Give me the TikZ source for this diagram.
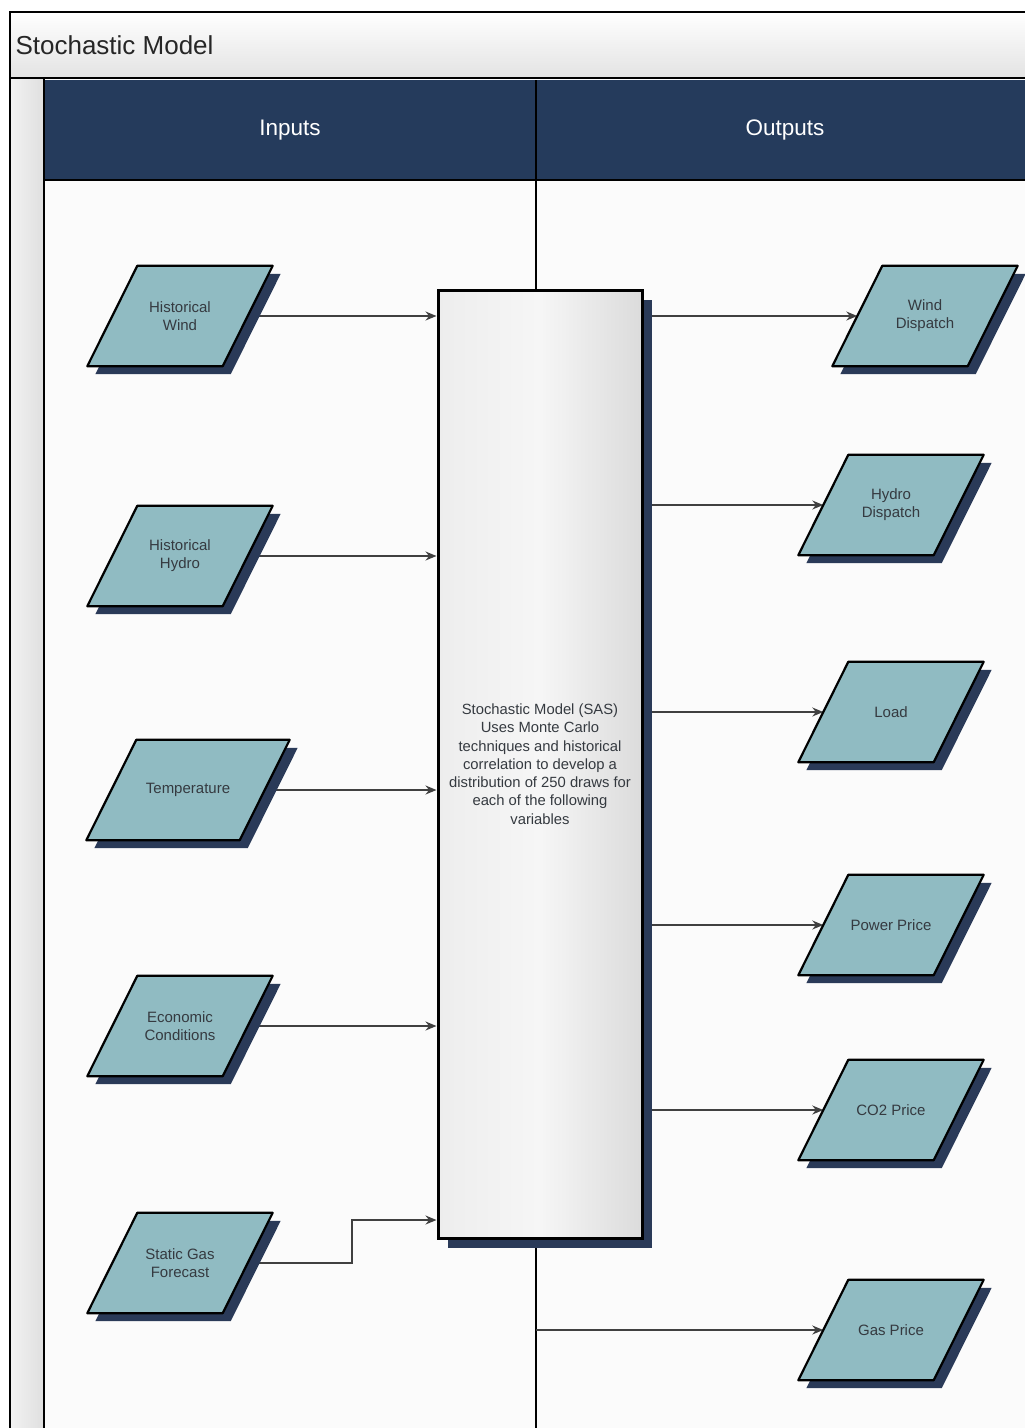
\documentclass[tikz,border=0pt]{standalone}
\usepackage{fontspec}
\setmainfont{Liberation Sans}
\usetikzlibrary{arrows.meta,calc,shadows}
\definecolor{navy}{HTML}{253B5C}
\definecolor{shnavy}{HTML}{2A3A58}
\definecolor{paraf}{HTML}{90BBC2}
\definecolor{txt}{HTML}{353A40}
\pgfdeclarelayer{frame}
\pgfdeclarelayer{conn}
\pgfdeclarelayer{paras}
\pgfsetlayers{frame,conn,paras,main}
\newcommand\parashape[1]{%
  \begin{pgfonlayer}{paras}
  \fill[shnavy] ($(#1.north west)+(33,8)$) -- ($(#1.north east)+(33,8)$)
     -- ($(#1.south east)+(-17,8)$) -- ($(#1.south west)+(-17,8)$) -- cycle;
  \filldraw[fill=paraf, draw=black, line width=2.2pt, line join=round]
     ($(#1.north west)+(25,0)$) -- ($(#1.north east)+(25,0)$)
     -- ($(#1.south east)+(-25,0)$) -- ($(#1.south west)+(-25,0)$) -- cycle;
  \end{pgfonlayer}}
\begin{document}
\begin{tikzpicture}[x=1pt,y=-1pt,
  para/.style={rectangle, minimum width=135pt, minimum height=100pt, inner sep=0pt,
    align=center, text=txt, font=\fontsize{15}{18}\selectfont},
  arr/.style={draw=black!75, line width=1.4pt, -{Stealth[length=11pt,width=9pt]}},
  frameline/.style={draw=black, line width=2.8pt},
  lanehead/.style={text=white, font=\fontsize{22.5}{26}\selectfont}]
\useasboundingbox (0,0) rectangle (1025,1428);

\begin{pgfonlayer}{frame}
  \fill[white!97!gray] (10,12) rectangle (1040,1440);
  \shade[top color=white, bottom color=gray!22] (10,12) rectangle (1040,78);
  \shade[left color=gray!10, right color=gray!25] (10,78) rectangle (44,1440);
  \fill[navy] (44,80) rectangle (1040,180);
  \draw[frameline] (10,1440) -- (10,12) -- (1040,12);
  \draw[frameline] (10,78) -- (1040,78);
  \draw[frameline] (44,78) -- (44,1440);
  \draw[frameline] (44,180) -- (1040,180);
  \coordinate (lanetop) at (536,80);
  \coordinate (lane) at (536,180);
  \coordinate (lanebot) at (536,1440);
  \draw[frameline] (lanetop) -- (lanebot);
\end{pgfonlayer}

\node[anchor=west, font=\fontsize{26}{30}\selectfont, text=black!85] (title) at (12,45) {Stochastic Model};
\node[lanehead] (inputs) at (290,130) {Inputs};
\node[lanehead] (outputs) at (785,130) {Outputs};

\node[draw=black, line width=3pt, minimum width=204pt, minimum height=948pt,
  left color=gray!14, right color=gray!28, middle color=white!93!gray,
  drop shadow={shadow xshift=10pt, shadow yshift=-10pt, fill=shnavy, opacity=1},
  align=center, font=\fontsize{14.8}{18.3}\selectfont, text=txt] (model) at (540,764)
  {Stochastic Model (SAS)\\Uses Monte Carlo\\techniques and historical\\correlation to develop a\\distribution of 250 draws for\\each of the following\\variables};

\node[para] (hw) at (180,316) {Historical\\Wind};
\node[para] (hh) at (180,556) {Historical\\Hydro};
\node[para, minimum width=153pt] (temp) at (188,790) {Temperature};
\node[para] (ec) at (180,1026) {Economic\\Conditions};
\node[para] (sgf) at (180,1263) {Static Gas\\Forecast};

\node[para] (wd) at (925,316) {Wind\\Dispatch};
\node[para] (hyd) at (891,505) {Hydro\\Dispatch};
\node[para] (load) at (891,712) {Load};
\node[para] (pp) at (891,925) {Power Price};
\node[para] (co2) at (891,1110) {CO2 Price};
\node[para] (gp) at (891,1330) {Gas Price};

\parashape{hw}\parashape{hh}\parashape{temp}\parashape{ec}\parashape{sgf}
\parashape{wd}\parashape{hyd}\parashape{load}\parashape{pp}\parashape{co2}\parashape{gp}

\begin{pgfonlayer}{conn}
  \draw[arr] (hw.east) -- (hw.east -| model.west);
  \draw[arr] (hh.east) -- (hh.east -| model.west);
  \draw[arr] (temp.east) -- (temp.east -| model.west);
  \draw[arr] (ec.east) -- (ec.east -| model.west);
  \coordinate (sgk) at (352,1220);
  \draw[arr] (sgf.east) -| (sgk) -- (sgk -| model.west);
  \draw[arr] (model.east |- wd.west) -- (wd.west);
  \draw[arr] (model.east |- hyd.west) -- (hyd.west);
  \draw[arr] (model.east |- load.west) -- (load.west);
  \draw[arr] (model.east |- pp.west) -- (pp.west);
  \draw[arr] (model.east |- co2.west) -- (co2.west);
  \draw[arr] (lane |- gp.west) -- (gp.west);
\end{pgfonlayer}
\end{tikzpicture}
\end{document}
